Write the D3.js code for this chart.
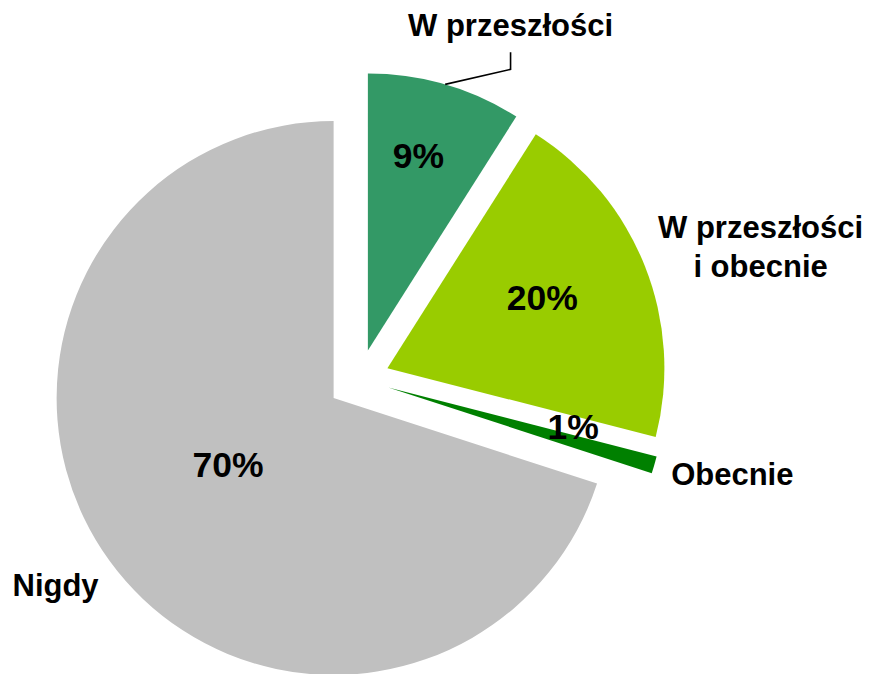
<!DOCTYPE html>
<html>
<head>
<meta charset="utf-8">
<script src="https://cdn.jsdelivr.net/npm/d3@7"></script>
<style>
  html, body { margin: 0; padding: 0; background: #ffffff; }
  svg { display: block; }
  text { font-family: "Liberation Sans", Arial, sans-serif; font-weight: bold; fill: #000; }
</style>
</head>
<body>
<svg id="chart" width="871" height="674"></svg>
<script>
// ---- data ----
const categories = ["W przeszłości", "W przeszłości\ni obecnie", "Obecnie", "Nigdy"];
const values = [9, 20, 1, 70];
const valueLabels = ["9%", "20%", "1%", "70%"];
const colors = ["#339966", "#99CC00", "#008000", "#C0C0C0"];

// ---- layout (styles / positions, not data) ----
const W = 871, H = 674;
const center = [359.5, 379.2];
const radius = 277;
const explode = [30, 30, 30, 32];
// percent label: [radius, angle shift in degrees] relative to slice mid angle
const pctLayout = [[201, -1.6], [170, -2.7], [189, -4.3], [125, 3.7]];
// category label: [radius, angle (deg, from 12 o'clock clockwise)] from exploded slice centre
const catLayout = [[355, 23.7], [392.6, 71.9], [354.7, 104.1], [335, 236.1]];
const catFont = 31, pctFont = 35.5, lineGap = 39;

const svg = d3.select("#chart");
const pie = d3.pie().sort(null).value(d => d).startAngle(0).endAngle(2 * Math.PI);
const arcs = pie(values);
const arc = d3.arc().innerRadius(0).outerRadius(radius);

const polar = (r, a) => [r * Math.sin(a), -r * Math.cos(a)];
const rad = d => d * Math.PI / 180;

const g = svg.append("g").attr("transform", `translate(${center[0]},${center[1]})`);

const slices = g.selectAll("g.slice").data(arcs).enter().append("g")
  .attr("class", "slice")
  .attr("transform", (d, i) => {
    const m = (d.startAngle + d.endAngle) / 2;
    const [dx, dy] = polar(explode[i], m);
    return `translate(${dx},${dy})`;
  });

slices.append("path")
  .attr("d", arc)
  .attr("fill", (d, i) => colors[i]);

// percent labels
slices.append("text")
  .attr("text-anchor", "middle")
  .attr("dominant-baseline", "central")
  .style("font-size", pctFont + "px")
  .attr("x", (d, i) => polar(pctLayout[i][0], (d.startAngle + d.endAngle) / 2 + rad(pctLayout[i][1]))[0])
  .attr("y", (d, i) => polar(pctLayout[i][0], (d.startAngle + d.endAngle) / 2 + rad(pctLayout[i][1]))[1])
  .text((d, i) => valueLabels[i]);

// category labels
slices.each(function(d, i) {
  const sel = d3.select(this);
  const [lx, ly] = polar(catLayout[i][0], rad(catLayout[i][1]));
  const lines = categories[i].split("\n");
  const t = sel.append("text")
    .attr("text-anchor", "middle")
    .style("font-size", catFont + "px");
  lines.forEach((ln, k) => {
    t.append("tspan")
      .attr("x", lx)
      .attr("y", ly + (k - (lines.length - 1) / 2) * lineGap)
      .attr("dy", "0.35em")
      .text(ln);
  });
  // leader line for first slice
  if (i === 0) {
    const m = (d.startAngle + d.endAngle) / 2;
    const [sx, sy] = polar(radius, m);
    const path = d3.path();
    path.moveTo(sx, sy);
    path.lineTo(lx, ly + 44);
    path.lineTo(lx, ly + 27);
    sel.append("path")
      .attr("d", path.toString())
      .attr("fill", "none")
      .attr("stroke", "#000")
      .attr("stroke-width", 1.6);
  }
});
</script>
</body>
</html>
